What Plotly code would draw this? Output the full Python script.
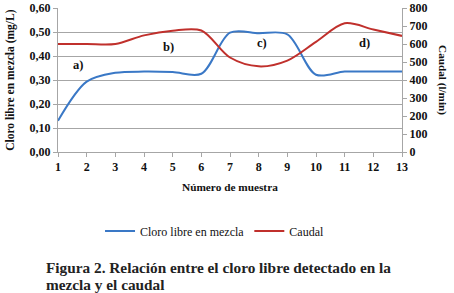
import plotly.graph_objects as go

muestra = [1, 2, 3, 4, 5, 6, 7, 8, 9, 10, 11, 12, 13]
cloro = [0.13, 0.293, 0.33, 0.335, 0.333, 0.326, 0.497, 0.495, 0.49, 0.322, 0.335, 0.335, 0.335]
caudal = [600, 600, 600, 648, 674, 675, 525, 476, 508, 612, 715, 681, 645]

labels = ["a)", "b)", "c)", "d)"]
label_x = [1.7, 4.85, 8.12, 11.7]
label_y = [0.363, 0.437, 0.454, 0.454]

caption = ["Figura 2. Relación entre el cloro libre detectado en la", "mezcla y el caudal"]

FONT = "Liberation Serif, Times New Roman, serif"
BLUE = "#3a78c6"
RED = "#c0302c"
TXT = "#111111"

def f(size, bold=True, color=TXT):
    return dict(family=FONT, size=size, color=color, weight="bold" if bold else "normal")

fig = go.Figure()
fig.add_trace(go.Scatter(x=muestra, y=cloro, mode="lines", name="Cloro libre en mezcla",
                         line=dict(color=BLUE, width=2, shape="spline", smoothing=0.9)))
fig.add_trace(go.Scatter(x=muestra, y=caudal, mode="lines", name="Caudal", yaxis="y2",
                         line=dict(color=RED, width=2, shape="spline", smoothing=0.9)))

for t, x, y in zip(labels, label_x, label_y):
    fig.add_annotation(x=x, y=y, text=t, showarrow=False, font=f(12.5))

fig.add_annotation(xref="paper", yref="paper", x=-0.14, y=0.5, xanchor="center", yanchor="middle",
                   text="Cloro libre en mezcla (mg/L)",
                   textangle=-90, showarrow=False, font=f(11.5))
fig.add_annotation(xref="paper", yref="paper", x=1.119, y=0.5, xanchor="center", yanchor="middle",
                   text="Caudal (l/min)",
                   textangle=90, showarrow=False, font=f(11.2))
fig.add_annotation(xref="paper", yref="paper", x=0.5, y=-0.243, xanchor="center", yanchor="middle",
                   text="Número de muestra",
                   showarrow=False, font=f(11.3))
for line, yy in zip(caption, [-0.799, -0.917]):
    fig.add_annotation(xref="paper", yref="paper", x=-0.041, xanchor="left", y=yy, yanchor="middle",
                       text=line, align="left", showarrow=False, font=f(15.3, color="#222222"))

fig.update_layout(
    width=454, height=293,
    margin=dict(l=58, r=52, t=8, b=141, autoexpand=False),
    paper_bgcolor="white", plot_bgcolor="white",
    separators=",.",
    showlegend=True,
    legend=dict(orientation="h", x=0.455, xanchor="center", y=-0.549, yanchor="middle",
                font=f(12, bold=False), itemwidth=30,
                traceorder="normal", tracegroupgap=0),
    xaxis=dict(range=[1, 13], tickvals=muestra, showgrid=False, showline=True,
               linecolor="#a6a6a6", ticks="outside", ticklen=4, tickcolor="#a6a6a6",
               tickfont=f(12), zeroline=False),
    yaxis=dict(range=[0, 0.6], dtick=0.1, tickformat=".2f", showgrid=True, gridcolor="#a6a6a6",
               showline=True, linecolor="#a6a6a6", ticks="outside", ticklen=4, tickcolor="#a6a6a6",
               tickfont=f(12), zeroline=False),
    yaxis2=dict(range=[0, 800], dtick=100, overlaying="y", side="right", showgrid=False,
                showline=True, linecolor="#a6a6a6", ticks="outside", ticklen=4, tickcolor="#a6a6a6",
                tickfont=f(12), zeroline=False),
)

fig.write_html("out.html", config={"displayModeBar": False},
               post_script="document.body.style.margin='0px';")
